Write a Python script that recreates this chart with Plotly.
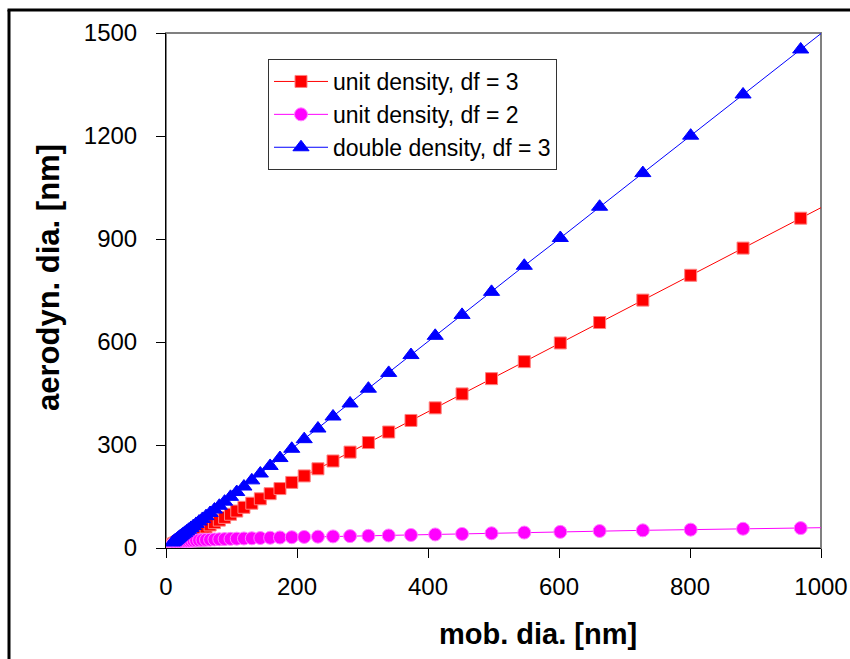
import plotly.graph_objects as go

# mobility diameter [nm]
mob_dia = [10.0, 11.0, 12.1, 13.3, 14.6, 16.1, 17.7, 19.5, 21.4, 23.6, 25.9, 28.5, 31.4, 34.5,
           38.0, 41.8, 45.9, 50.5, 55.6, 61.1, 67.3, 74.0, 81.4, 89.5, 98.5, 108, 119, 131,
           144, 159, 174, 192, 211, 232, 255, 281, 309, 340, 374, 411, 452, 497, 547, 602,
           662, 728, 801, 881, 969, 1066]

# aerodynamic diameter [nm]
unit_df3 = [10.0, 11.0, 12.1, 13.3, 14.6, 16.1, 17.7, 19.5, 21.4, 23.6, 25.9, 28.5, 31.3, 34.4,
            37.9, 41.7, 45.8, 50.4, 55.5, 61.0, 67.1, 73.8, 81.2, 89.2, 98.2, 107.6, 118.5, 130.4,
            143.3, 158.2, 173.1, 191.0, 209.9, 230.7, 253.5, 279.3, 307.1, 337.8, 371.5, 408.2,
            448.8, 493.3, 542.8, 597.2, 656.7, 722.0, 794.3, 873.5, 960.6, 1056.6]

unit_df2 = [10.0, 11.0, 11.8, 12.6, 13.4, 14.2, 15.0, 15.8, 16.5, 17.2, 17.9, 18.6, 19.3, 20.0,
            20.7, 21.4, 22.0, 22.6, 23.2, 23.8, 24.3, 24.9, 25.4, 26.0, 26.6, 27.2, 27.8, 28.4,
            29.1, 29.8, 30.6, 31.4, 32.2, 33.0, 33.8, 34.6, 35.5, 36.5, 38.0, 39.5, 41.0, 43.0,
            45.0, 47.0, 49.5, 51.5, 53.5, 56.0, 58.0, 61.0]

double_df3 = [16.0, 17.5, 19.2, 21.0, 23.0, 25.3, 27.8, 30.5, 33.4, 36.7, 40.2, 44.1, 48.4, 53.1,
              58.3, 64.0, 70.2, 77.1, 84.6, 92.8, 102, 112, 123, 135, 149, 163, 179, 197,
              217, 239, 262, 289, 317, 348, 383, 421, 464, 510, 562, 618, 679, 746, 822, 903,
              994, 1092, 1201, 1321, 1452, 1597]

series_names = ["unit density, df = 3", "unit density, df = 2", "double density, df = 3"]
x_ticks = [0, 200, 400, 600, 800, 1000]
y_ticks = [0, 300, 600, 900, 1200, 1500]

FONT = "Liberation Sans, Arial, sans-serif"

fig = go.Figure()
fig.add_trace(go.Scatter(
    x=mob_dia, y=unit_df3, name=series_names[0], mode="lines+markers",
    line=dict(color="#FF0000", width=1),
    marker=dict(symbol="square", size=12, color="#FF0000",
                line=dict(color="#FF8080", width=1))))
fig.add_trace(go.Scatter(
    x=mob_dia, y=unit_df2, name=series_names[1], mode="lines+markers",
    line=dict(color="#FF00FF", width=1),
    marker=dict(symbol="circle", size=13, color="#FF00FF",
                line=dict(color="#FF80FF", width=1))))
fig.add_trace(go.Scatter(
    x=mob_dia, y=double_df3, name=series_names[2], mode="lines+markers",
    line=dict(color="#0000FF", width=1),
    marker=dict(symbol="triangle-up", size=14, color="#0000FF",
                line=dict(color="#0000FF", width=1))))

W, H = 850, 659
L, R, T, B = 166, 821, 33, 548
pw, ph = R - L, B - T


def px(x):
    return (x - L) / pw


def py(y):
    return (B - y) / ph


fig.update_layout(
    width=W, height=H,
    margin=dict(l=L, r=W - R, t=T, b=H - B, autoexpand=False),
    paper_bgcolor="white", plot_bgcolor="white",
    font=dict(family=FONT, color="black", size=24),
    showlegend=True,
    legend=dict(x=px(268), y=py(59), xanchor="left", yanchor="top",
                bgcolor="white", bordercolor="#333333", borderwidth=1,
                font=dict(size=23, family=FONT), tracegroupgap=0,
                itemwidth=54),
    xaxis=dict(range=[0, 1000], tickvals=x_ticks, ticktext=[str(v) for v in x_ticks],
               automargin=False,
               showgrid=False, zeroline=False, showline=True, linecolor="black", linewidth=1,
               ticks="outside", ticklen=9, tickcolor="black", tickwidth=1,
               tickfont=dict(size=24, family=FONT), ticklabelstandoff=8),
    yaxis=dict(range=[0, 1500], tickvals=y_ticks, ticktext=[str(v) for v in y_ticks],
               automargin=False,
               showgrid=False, zeroline=False, showline=True, linecolor="black", linewidth=1,
               ticks="outside", ticklen=9, tickcolor="black", tickwidth=1,
               tickfont=dict(size=24, family=FONT), ticklabelstandoff=14),
    shapes=[
        dict(type="rect", xref="paper", yref="paper", x0=0, x1=1, y0=0, y1=1,
             line=dict(color="#808080", width=2), layer="below"),
        dict(type="line", xref="paper", yref="paper", x0=px(9), x1=px(9), y0=py(10), y1=py(700),
             line=dict(color="black", width=3), layer="below"),
        dict(type="line", xref="paper", yref="paper", x0=px(7.5), x1=px(900), y0=py(10), y1=py(10),
             line=dict(color="black", width=3), layer="below"),
    ],
    annotations=[
        dict(text="<b>mob. dia. [nm]</b>", xref="paper", yref="paper", x=px(538), y=py(634),
             xanchor="center", yanchor="middle", showarrow=False,
             font=dict(size=29, family=FONT)),
        dict(text="<b>aerodyn. dia. [nm]</b>", xref="paper", yref="paper", x=px(48), y=py(278),
             xanchor="center", yanchor="middle", showarrow=False, textangle=-90,
             font=dict(size=31, family=FONT)),
    ],
)

fig.write_html("out.html")
